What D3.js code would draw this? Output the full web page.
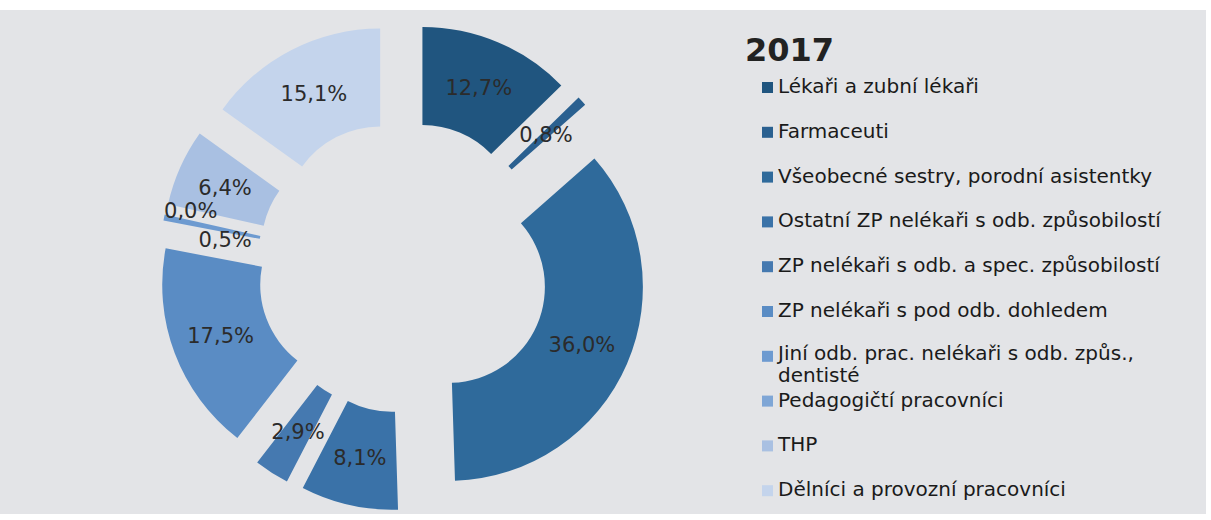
<!DOCTYPE html>
<html>
<head>
<meta charset="utf-8">
<script src="https://cdn.jsdelivr.net/npm/d3@7"></script>
<style>
  html, body { margin: 0; padding: 0; background: #ffffff; }
  svg { display: block; font-family: "DejaVu Sans", Verdana, sans-serif; }
</style>
</head>
<body>
<div id="chart"></div>
<script>
// Struktura pracovníků 2017 - exploded donut

const title = '2017';

const categories = [
  'Lékaři a zubní lékaři',
  'Farmaceuti',
  'Všeobecné sestry, porodní asistentky',
  'Ostatní ZP nelékaři s odb. způsobilostí',
  'ZP nelékaři s odb. a spec. způsobilostí',
  'ZP nelékaři s pod odb. dohledem',
  'Jiní odb. prac. nelékaři s odb. způs., dentisté',
  'Pedagogičtí pracovníci',
  'THP',
  'Dělníci a provozní pracovníci'
];

const shares = [12.7, 0.8, 36.0, 8.1, 2.9, 17.5, 0.5, 0.0, 6.4, 15.1];

const colors = [
  '#20557f', '#2a6090', '#2f6a9b', '#3a72a8', '#4579b0',
  '#5a8cc4', '#6d9ad0', '#7fa6d6', '#a9c0e2', '#c4d4ec'
];

// legend lines where the text wraps
const legendLines = categories.map(c =>
  c === 'Jiní odb. prac. nelékaři s odb. způs., dentisté'
    ? ['Jiní odb. prac. nelékaři s odb. způs.,', 'dentisté']
    : [c]);

const width = 1211;
const height = 520;
const cx = 403, cy = 267;
const outerR = 194, innerR = 96, explode = 50, labelR = 195;

// small nudges so the tiny slice labels don't collide
const labelNudge = { 6: [13, 12], 7: [-22, -14] };

const svg = d3.select('#chart').append('svg')
  .attr('width', width)
  .attr('height', height);

svg.append('rect')
  .attr('x', 0).attr('y', 10)
  .attr('width', 1206).attr('height', 504)
  .attr('fill', '#e3e4e7');

const pie = d3.pie().value(d => d).sort(null);
const arcs = pie(shares);

const arc = d3.arc().innerRadius(innerR).outerRadius(outerR);

const g = svg.append('g').attr('transform', `translate(${cx},${cy})`);

const offset = d => {
  const a = (d.startAngle + d.endAngle) / 2;
  return [Math.sin(a), -Math.cos(a)];
};

g.selectAll('path.slice')
  .data(arcs)
  .enter()
  .append('path')
  .attr('class', 'slice')
  .attr('fill', (d, i) => colors[i])
  .attr('transform', d => {
    const [ux, uy] = offset(d);
    return `translate(${ux * explode},${uy * explode})`;
  })
  .attr('d', arc);

g.selectAll('text.lbl')
  .data(arcs)
  .enter()
  .append('text')
  .attr('class', 'lbl')
  .attr('text-anchor', 'middle')
  .attr('dy', '0.36em')
  .attr('x', (d, i) => offset(d)[0] * labelR + (labelNudge[i] ? labelNudge[i][0] : 0))
  .attr('y', (d, i) => offset(d)[1] * labelR + (labelNudge[i] ? labelNudge[i][1] : 0))
  .style('font-size', '21px')
  .style('fill', '#2b2b2b')
  .text(d => d3.format('.1f')(d.data).replace('.', ',') + '%');

// Legend
const legend = svg.append('g').attr('transform', 'translate(745,0)');

legend.append('text')
  .attr('x', 0).attr('y', 61)
  .style('font-size', '32px')
  .style('font-weight', 'bold')
  .style('fill', '#222')
  .text(title);

const rowStart = 93, rowGap = 44.8;

const items = legend.selectAll('.legend-item')
  .data(categories)
  .enter()
  .append('g')
  .attr('class', 'legend-item')
  .attr('transform', (d, i) => `translate(17,${rowStart + i * rowGap})`);

items.append('rect')
  .attr('x', 0).attr('y', -11)
  .attr('width', 11).attr('height', 11)
  .attr('fill', (d, i) => colors[i]);

items.append('text')
  .attr('x', 16)
  .attr('y', (d, i) => legendLines[i].length > 1 ? -2 : 0)
  .style('font-size', '20px')
  .style('fill', '#1a1a1a')
  .each(function (d, i) {
    const t = d3.select(this);
    legendLines[i].forEach((line, j) => {
      t.append('tspan')
        .attr('x', 16)
        .attr('dy', j === 0 ? 0 : 22)
        .text(line);
    });
  });
</script>
</body>
</html>
